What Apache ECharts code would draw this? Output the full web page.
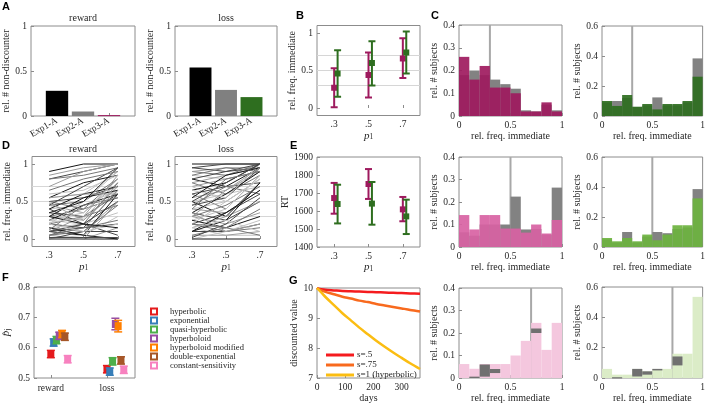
<!DOCTYPE html>
<html><head><meta charset="utf-8">
<script src="https://cdn.jsdelivr.net/npm/echarts@6/dist/echarts.min.js"></script>
<style>html,body{margin:0;padding:0;background:#fff}#c{width:708px;height:404px}</style>
</head><body><div id="c"></div>
<script>
// ---------------- DATA ----------------
const expCategories = ['Exp1-A', 'Exp2-A', 'Exp3-A'];
const nonDiscReward = [0.28, 0.05, 0.01];
const nonDiscLoss = [0.54, 0.29, 0.21];

const pLevels = [0.3, 0.5, 0.7];
const refLevels = [0.3, 0.5, 0.7];

// B: relative frequency of immediate choice (mean, lower, upper)
const freqRewardMean = [0.27, 0.44, 0.66];
const freqRewardLo = [0.01, 0.14, 0.40];
const freqRewardHi = [0.53, 0.74, 0.93];
const freqLossMean = [0.46, 0.60, 0.74];
const freqLossLo = [0.15, 0.30, 0.46];
const freqLossHi = [0.77, 0.89, 1.02];

// E: RT
const rtRewardMean = [1672, 1750, 1609];
const rtRewardLo = [1585, 1667, 1543];
const rtRewardHi = [1756, 1833, 1678];
const rtLossMean = [1639, 1641, 1570];
const rtLossLo = [1531, 1524, 1472];
const rtLossHi = [1746, 1761, 1663];

// D: individual subjects, rel. freq. immediate at p1 = .3, .5, .7
const subjReward = [
  [0.9,1,1],[0.8,0.9,1],[0.8,0.85,0.95],[0.7,0.9,1],[0.55,0.6,0.9],[0.55,0.75,0.85],[0.5,0.55,0.7],
  [0.45,0.5,0.8],[0.45,0.35,0.75],[0.4,0.45,0.65],[0.4,0.6,0.7],[0.35,0.3,0.6],[0.3,0.4,0.55],
  [0.3,0.25,0.7],[0.25,0.2,0.5],[0.25,0.45,0.6],[0.2,0.15,0.65],[0.2,0.3,0.45],[0.15,0.1,0.5],
  [0.15,0.2,0.35],[0.1,0.05,0.6],[0.1,0.15,0.2],[0.05,0.1,0.45],[0.05,0,0.15],[0,0.05,0.3],[0,0,0],
  [0,0.1,0.1],[0.05,0.2,0.75],[0.1,0.3,0.85],[0.2,0.5,0.9],[0.3,0.55,0.65],[0.4,0.2,0.5],
  [0.5,0.4,0.8],[0.55,0.6,0.6],[0.6,0.65,0.85],[0.15,0.05,0],[0.1,0.2,0.05],[0.05,0.15,0.25],
  [0,0,0.5],[0.25,0.35,0.8],[0.35,0.5,0.95],[0.45,0.7,0.95],[0.65,0.8,0.9],[0.85,0.95,1],
  [0.2,0.1,0.2],[0.3,0.2,0.15],[0.02,0.02,0.02],[0.12,0.45,0.55],[0.48,0.25,0.65],[0.22,0.28,0.72]
];
const subjLoss = [
  [1,1,1],[0.95,1,1],[0.9,0.85,1],[0.9,0.95,0.95],[0.85,0.8,0.9],[0.8,0.7,0.95],[0.8,0.9,1],
  [0.75,0.6,0.85],[0.7,0.8,0.9],[0.7,0.5,0.8],[0.65,0.75,1],[0.6,0.7,0.75],[0.6,0.4,0.85],
  [0.55,0.65,0.9],[0.5,0.6,0.7],[0.5,0.3,0.75],[0.45,0.55,0.95],[0.45,0.7,0.6],[0.4,0.35,0.65],
  [0.4,0.5,0.8],[0.35,0.6,0.9],[0.35,0.25,0.5],[0.3,0.45,0.7],[0.3,0.2,0.35],[0.25,0.4,0.85],
  [0.25,0.15,0.3],[0.2,0.35,0.6],[0.2,0.1,0.15],[0.15,0.3,0.5],[0.15,0.05,0.05],[0.1,0.25,0.75],
  [0.1,0.1,0.2],[0.05,0.15,0.4],[0.05,0.05,0.1],[0,0.1,0.25],[0,0,0],[0.95,0.9,0.95],[0.85,0.95,0.9],
  [0.75,0.85,0.95],[0.65,0.55,1],[0.55,0.85,0.95],[0.5,0.75,1],[0.4,0.8,0.9],[0.3,0.65,0.95],
  [0.2,0.5,0.8],[0.1,0.35,0.65],[0.02,0.2,0.55],[0.2,0.15,0.05],[0.35,0.1,0.2],[0.15,0.25,0.1]
];

// C: histograms (10 bins over [0,1])
const histBinEdges = [0, 0.1, 0.2, 0.3, 0.4, 0.5, 0.6, 0.7, 0.8, 0.9, 1];
const histRewP3 = [0.26, 0.16, 0.22, 0.125, 0.125, 0.10, 0.02, 0.02, 0.06, 0.02];
const histRewP3Gray = [0.18, 0.20, 0.18, 0.16, 0.14, 0.12, 0.025, 0.02, 0.05, 0.025];
const histLossP3 = [0.10, 0.067, 0.14, 0.062, 0.08, 0.044, 0.08, 0.08, 0.10, 0.262];
const histLossP3Gray = [0.09, 0.10, 0.12, 0.06, 0.07, 0.124, 0.07, 0.07, 0.09, 0.384];
const histRewP5 = [0.142, 0.078, 0.142, 0.142, 0.082, 0.082, 0.064, 0.10, 0.06, 0.12];
const histRewP5Gray = [0.065, 0.05, 0.10, 0.10, 0.10, 0.224, 0.078, 0.08, 0.055, 0.264];
const histLossP5 = [0.06, 0.038, 0.06, 0.038, 0.083, 0.045, 0.083, 0.145, 0.145, 0.324];
const histLossP5Gray = [0.05, 0.03, 0.10, 0.03, 0.07, 0.10, 0.092, 0.12, 0.13, 0.386];
const histRewP7 = [0.062, 0.041, 0.062, 0.062, 0.062, 0.10, 0.165, 0.245, 0.125, 0.245];
const histRewP7GrayBlocks = [[1, 0, 0.006], [2, 0.006, 0.06], [3, 0.022, 0.04], [7, 0.2, 0.22]];
const histLossP7 = [0.06, 0.022, 0.022, 0.06, 0.044, 0.06, 0.06, 0.16, 0.16, 0.535];
const histLossP7GrayBlocks = [[1, 0, 0.005], [3, 0.01, 0.06], [4, 0.022, 0.044], [5, 0.05, 0.06], [7, 0.083, 0.142]];

// F: model fits
const fCategories = ['reward', 'loss'];
const models = ['hyperbolic', 'exponential', 'quasi-hyperbolic', 'hyperboloid', 'hyperboloid modified', 'double-exponential', 'constant-sensitivity'];
const pHatReward = [0.579, 0.617, 0.625, 0.639, 0.645, 0.636, 0.562];
const pHatLoss = [0.529, 0.521, 0.555, 0.678, 0.671, 0.558, 0.527];
const pHatRewardErr = [0.012, 0.012, 0.012, 0.012, 0.012, 0.012, 0.012];
const pHatLossErr = [0.012, 0.012, 0.012, 0.019, 0.019, 0.012, 0.012];

// G: discounted value curves
const days = [0, 5, 15, 30, 60, 90, 120, 150, 180, 210, 240, 270, 300, 330, 365];
const valS05 = [10, 9.98, 9.96, 9.94, 9.92, 9.90, 9.89, 9.88, 9.87, 9.86, 9.85, 9.84, 9.83, 9.82, 9.81];
const valS075 = [10, 9.97, 9.92, 9.87, 9.79, 9.71, 9.65, 9.58, 9.53, 9.47, 9.42, 9.37, 9.32, 9.27, 9.22];
const valS1 = [10, 9.95, 9.85, 9.70, 9.43, 9.16, 8.92, 8.68, 8.46, 8.24, 8.04, 7.85, 7.67, 7.49, 7.30];
const gNames = ['s=.5', 's=.75', 's=1 (hyperbolic)'];

// ---------------- STYLE ----------------
const SERIF = "'Liberation Serif','Times New Roman',serif";
const SANS = "'Liberation Sans',Arial,sans-serif";
const AX = '#8c8c8c', TX = '#262626';
const MAG = '#9e1a5e', GRN = '#2e6e1f', PINK = '#d862a3', LGRN = '#6cb33f', LPINK = '#f4c7de', LLGRN = '#dbecc7';
const GRAYH = '#828282', GRAYB = '#707070', VLINE = '#a8a8a8', REFL = '#d6d6d6';
const shades = ['#151515', '#474747', '#767676', '#9c9c9c', '#c2c2c2'];
const modelColors = ['#e41a1c', '#377eb8', '#4daf4a', '#984ea3', '#ff7f00', '#a65628', '#f781bf'];
const gColors = ['#f51b1e', '#f86a1e', '#fbbd12'];

const rich = {
  i: {fontFamily: SERIF, fontStyle: 'italic', fontSize: 11, color: TX, padding: [0, 0, 3, 0]},
  s: {fontFamily: SERIF, fontSize: 7.5, color: TX}
};
const P1 = '{i|p}{s|1}';

const grids = [
  {left: 31, top: 26, width: 104, height: 90},   // 0 A reward
  {left: 175, top: 26, width: 102, height: 90},  // 1 A loss
  {left: 317, top: 25.5, width: 103, height: 90},// 2 B
  {left: 459, top: 25, width: 103, height: 91},  // 3 C r1c1
  {left: 602, top: 26, width: 103, height: 90},  // 4 C r1c2
  {left: 32, top: 156.5, width: 103, height: 90},// 5 D reward
  {left: 175, top: 156.5, width: 102, height: 90},// 6 D loss
  {left: 317, top: 157, width: 103, height: 90}, // 7 E
  {left: 459, top: 157, width: 103, height: 90}, // 8 C r2c1
  {left: 602, top: 157, width: 103, height: 90}, // 9 C r2c2
  {left: 32, top: 287, width: 103, height: 91},  // 10 F
  {left: 317, top: 288, width: 103, height: 90}, // 11 G
  {left: 459, top: 288, width: 103, height: 90}, // 12 C r3c1
  {left: 602, top: 287, width: 103, height: 91}  // 13 C r3c2
].map(g => Object.assign({show: true, borderColor: AX, borderWidth: 1, containLabel: false}, g));

function axis(gi, o) {
  const a = {
    type: 'value', gridIndex: gi, min: o.min, max: o.max,
    axisLine: {show: false},
    axisTick: {show: true, inside: true, length: 3, lineStyle: {color: AX}},
    axisLabel: {show: true, color: TX, fontFamily: SERIF, fontSize: 9.5, margin: o.margin != null ? o.margin : 4, rotate: o.rotate || 0,
      formatter: v => String(v)},
    splitLine: {show: false},
    name: o.name || '', nameLocation: 'middle', nameGap: o.gap || 15,
    nameTextStyle: {color: TX, fontFamily: SERIF, fontSize: 10, rich: rich}
  };
  if (o.interval != null) a.interval = o.interval;
  if (o.ticks) { a.axisTick.customValues = o.ticks; a.axisLabel.customValues = o.ticks; }
  if (o.fmt) a.axisLabel.formatter = o.fmt;
  return a;
}
const dotFmt = v => String(v).replace(/^0\./, '.');

const xAxes = [], yAxes = [];
// A
xAxes.push(axis(0, {min: 0, max: 4, ticks: [1, 2, 3], fmt: v => expCategories[v - 1], rotate: 30, margin: 4}));
yAxes.push(axis(0, {min: 0, max: 1, interval: 0.5, name: 'rel. # non-discounter', gap: 15}));
xAxes.push(axis(1, {min: 0, max: 4, ticks: [1, 2, 3], fmt: v => expCategories[v - 1], rotate: 30, margin: 4}));
yAxes.push(axis(1, {min: 0, max: 1, interval: 0.5, name: 'rel. # non-discounter', gap: 17}));
// B
xAxes.push(axis(2, {min: 0.2, max: 0.8, ticks: pLevels, fmt: dotFmt, name: P1, gap: 13}));
yAxes.push(axis(2, {min: -0.1, max: 1.1, ticks: [0, 0.5, 1], name: 'rel. freq. immediate', gap: 17}));
// C row1
xAxes.push(axis(3, {min: 0, max: 1, interval: 0.5, name: 'rel. freq. immediate', gap: 14}));
yAxes.push(axis(3, {min: 0, max: 0.4, interval: 0.1, name: 'rel. # subjects', gap: 17}));
xAxes.push(axis(4, {min: 0, max: 1, interval: 0.5, name: 'rel. freq. immediate', gap: 14}));
yAxes.push(axis(4, {min: 0, max: 0.6, interval: 0.2, name: 'rel. # subjects', gap: 16.5}));
// D
xAxes.push(axis(5, {min: 0.2, max: 0.8, ticks: pLevels, fmt: dotFmt, name: P1, gap: 13}));
yAxes.push(axis(5, {min: -0.1, max: 1.1, ticks: [0, 0.5, 1], name: 'rel. freq. immediate', gap: 16}));
xAxes.push(axis(6, {min: 0.2, max: 0.8, ticks: pLevels, fmt: dotFmt, name: P1, gap: 13}));
yAxes.push(axis(6, {min: -0.1, max: 1.1, ticks: [0, 0.5, 1], name: 'rel. freq. immediate', gap: 17}));
// E
xAxes.push(axis(7, {min: 0.2, max: 0.8, ticks: pLevels, fmt: dotFmt, name: P1, gap: 14}));
yAxes.push(axis(7, {min: 1400, max: 1900, interval: 100, name: 'RT', gap: 23}));
// C row2
xAxes.push(axis(8, {min: 0, max: 1, interval: 0.5, name: 'rel. freq. immediate', gap: 14}));
yAxes.push(axis(8, {min: 0, max: 0.4, interval: 0.1, name: 'rel. # subjects', gap: 17}));
xAxes.push(axis(9, {min: 0, max: 1, interval: 0.5, name: 'rel. freq. immediate', gap: 14}));
yAxes.push(axis(9, {min: 0, max: 0.6, interval: 0.2, name: 'rel. # subjects', gap: 16.5}));
// F
xAxes.push(axis(10, {min: 0.7, max: 2.5, ticks: [1, 2], fmt: v => fCategories[v - 1], margin: 5}));
yAxes.push(axis(10, {min: 0.5, max: 0.8, interval: 0.1, name: '{i|p\u0302}{s|j}', gap: 19}));
// G
xAxes.push(axis(11, {min: 0, max: 365, ticks: [0, 100, 200, 300], name: 'days', gap: 14}));
yAxes.push(axis(11, {min: 7, max: 10, interval: 1, name: 'discounted value', gap: 14}));
// C row3
xAxes.push(axis(12, {min: 0, max: 1, interval: 0.5, name: 'rel. freq. immediate', gap: 15}));
yAxes.push(axis(12, {min: 0, max: 0.4, interval: 0.1, name: 'rel. # subjects', gap: 17}));
xAxes.push(axis(13, {min: 0, max: 1, interval: 0.5, name: 'rel. freq. immediate', gap: 15}));
yAxes.push(axis(13, {min: 0, max: 0.6, interval: 0.2, name: 'rel. # subjects', gap: 16.5}));

// ---------------- RENDERERS ----------------
function barRender(colors) {
  return function (params, api) {
    const x = api.value(0), v = api.value(1);
    const p0 = api.coord([x - 0.43, 0]), p1 = api.coord([x + 0.43, v]);
    return {type: 'rect', shape: {x: p0[0], y: p1[1], width: p1[0] - p0[0], height: Math.max(p0[1] - p1[1], 1)},
      style: {fill: colors[params.dataIndex]}};
  };
}
function errRender(color, capHalf, sqHalf) {
  return function (params, api) {
    const x = api.value(0), m = api.value(1), lo = api.value(2), hi = api.value(3);
    const pm = api.coord([x, m]), pl = api.coord([x, lo]), ph = api.coord([x, hi]);
    const st = {stroke: color, lineWidth: 2};
    return {type: 'group', children: [
      {type: 'line', shape: {x1: pl[0], y1: pl[1], x2: ph[0], y2: ph[1]}, style: st},
      {type: 'line', shape: {x1: pl[0] - capHalf, y1: pl[1], x2: pl[0] + capHalf, y2: pl[1]}, style: st},
      {type: 'line', shape: {x1: ph[0] - capHalf, y1: ph[1], x2: ph[0] + capHalf, y2: ph[1]}, style: st},
      {type: 'rect', shape: {x: pm[0] - sqHalf, y: pm[1] - sqHalf, width: 2 * sqHalf, height: 2 * sqHalf}, style: {fill: color}}
    ]};
  };
}
function histRender(color, opacity) {
  return function (params, api) {
    const i = api.value(0), v = api.value(1);
    const p0 = api.coord([histBinEdges[i], 0]), p1 = api.coord([histBinEdges[i + 1], v]);
    return {type: 'rect', shape: {x: p0[0], y: p1[1], width: p1[0] - p0[0], height: p0[1] - p1[1]},
      style: {fill: color, opacity: opacity}};
  };
}
function blockRender(color) {
  return function (params, api) {
    const i = api.value(0), lo = api.value(1), hi = api.value(2);
    const p0 = api.coord([histBinEdges[i], lo]), p1 = api.coord([histBinEdges[i + 1], hi]);
    return {type: 'rect', shape: {x: p0[0], y: p1[1], width: p1[0] - p0[0], height: Math.max(p0[1] - p1[1], 1.2)},
      style: {fill: color}};
  };
}
function vlineRender(params, api) {
  const cs = params.coordSys;
  const x = api.coord([api.value(0), 0])[0];
  return {type: 'line', shape: {x1: x, y1: cs.y, x2: x, y2: cs.y + cs.height}, style: {stroke: VLINE, lineWidth: 2}};
}
function hlineRender(params, api) {
  const cs = params.coordSys;
  const y = api.coord([0.5, api.value(0)])[1];
  return {type: 'line', shape: {x1: cs.x, y1: y, x2: cs.x + cs.width, y2: y}, style: {stroke: REFL, lineWidth: 1}};
}
function subjRender(params, api) {
  const pts = pLevels.map((p, k) => api.coord([p, api.value(k)]));
  return {type: 'polyline', shape: {points: pts}, style: {stroke: shades[params.dataIndex % shades.length], lineWidth: 1, fill: null}};
}
function modelRender(color) {
  return function (params, api) {
    const x = api.value(0), m = api.value(1), e = api.value(2);
    const pm = api.coord([x, m]), pl = api.coord([x, m - e]), ph = api.coord([x, m + e]);
    const st = {stroke: color, lineWidth: 1.5};
    return {type: 'group', children: [
      {type: 'line', shape: {x1: pl[0], y1: pl[1], x2: ph[0], y2: ph[1]}, style: st},
      {type: 'line', shape: {x1: pl[0] - 4, y1: pl[1], x2: pl[0] + 4, y2: pl[1]}, style: st},
      {type: 'line', shape: {x1: ph[0] - 4, y1: ph[1], x2: ph[0] + 4, y2: ph[1]}, style: st},
      {type: 'rect', shape: {x: pm[0] - 3.5, y: pm[1] - 4, width: 7, height: 8}, style: {fill: color}}
    ]};
  };
}

// ---------------- SERIES ----------------
const series = [];
function cs(gi, extra) { return Object.assign({type: 'custom', xAxisIndex: gi, yAxisIndex: gi, silent: true, clip: false}, extra); }

// A
series.push(cs(0, {renderItem: barRender(['#000000', '#808080', MAG]), data: nonDiscReward.map((v, i) => [i + 1, v])}));
series.push(cs(1, {renderItem: barRender(['#000000', '#808080', GRN]), data: nonDiscLoss.map((v, i) => [i + 1, v])}));
// B
series.push(cs(2, {renderItem: hlineRender, data: refLevels.map(v => [v]), z: 1}));
series.push(cs(2, {renderItem: errRender(MAG, 3.5, 3), data: pLevels.map((p, i) => [p, freqRewardMean[i], freqRewardLo[i], freqRewardHi[i]]), z: 3}));
series.push(cs(2, {renderItem: errRender(GRN, 3.5, 3), data: pLevels.map((p, i) => [p + 0.02, freqLossMean[i], freqLossLo[i], freqLossHi[i]]), z: 4}));
// E
series.push(cs(7, {renderItem: errRender(MAG, 3.5, 3), data: pLevels.map((p, i) => [p, rtRewardMean[i], rtRewardLo[i], rtRewardHi[i]]), z: 3}));
series.push(cs(7, {renderItem: errRender(GRN, 3.5, 3), data: pLevels.map((p, i) => [p + 0.02, rtLossMean[i], rtLossLo[i], rtLossHi[i]]), z: 4}));
// D
[[5, subjReward], [6, subjLoss]].forEach(([gi, d]) => {
  series.push(cs(gi, {renderItem: hlineRender, data: refLevels.map(v => [v]), z: 1}));
  series.push(cs(gi, {renderItem: subjRender, data: d, z: 2}));
});
// C
const hists = [
  {gi: 3, p: 0.3, col: MAG, vals: histRewP3, gray: histRewP3Gray},
  {gi: 4, p: 0.3, col: GRN, vals: histLossP3, gray: histLossP3Gray},
  {gi: 8, p: 0.5, col: PINK, vals: histRewP5, gray: histRewP5Gray},
  {gi: 9, p: 0.5, col: LGRN, vals: histLossP5, gray: histLossP5Gray},
  {gi: 12, p: 0.7, col: LPINK, vals: histRewP7, blocks: histRewP7GrayBlocks},
  {gi: 13, p: 0.7, col: LLGRN, vals: histLossP7, blocks: histLossP7GrayBlocks}
];
hists.forEach(h => {
  series.push(cs(h.gi, {renderItem: vlineRender, data: [[h.p]], z: 1}));
  if (h.gray) series.push(cs(h.gi, {renderItem: histRender(GRAYH, 1), data: h.gray.map((v, i) => [i, v]), z: 2}));
  series.push(cs(h.gi, {renderItem: histRender(h.col, h.gray ? 0.92 : 1), data: h.vals.map((v, i) => [i, v]), z: 3}));
  if (h.blocks) series.push(cs(h.gi, {renderItem: blockRender(GRAYB), data: h.blocks, z: 4}));
});
// F
models.forEach((m, i) => {
  series.push(cs(10, {name: m, color: modelColors[i], renderItem: modelRender(modelColors[i]),
    data: [[1 + 0.05 * i, pHatReward[i], pHatRewardErr[i]], [2 + 0.05 * i, pHatLoss[i], pHatLossErr[i]]], z: 3}));
});
// G
[valS05, valS075, valS1].forEach((vals, k) => {
  series.push({type: 'line', name: gNames[k], xAxisIndex: 11, yAxisIndex: 11, smooth: 0.3, showSymbol: false, silent: true,
    color: gColors[k], lineStyle: {width: 2.5, color: gColors[k]}, data: days.map((d, i) => [d, vals[i]]), z: 3});
});

// ---------------- TEXT ----------------
const letters = [['A', 2, 1], ['B', 296, 10], ['C', 431, 10], ['D', 2, 140], ['E', 290, 140], ['F', 2, 272], ['G', 289, 275]];
const titles = [['reward', 83, 18], ['loss', 226, 18], ['reward', 83, 149], ['loss', 226, 149]];
const graphic = [];
letters.forEach(([t, x, y]) => graphic.push({type: 'text', x: x, y: y, silent: true,
  style: {text: t, fontFamily: SANS, fontWeight: 'bold', fontSize: 11, fill: '#000', textVerticalAlign: 'top'}}));
titles.forEach(([t, x, y]) => graphic.push({type: 'text', x: x, y: y, silent: true,
  style: {text: t, fontFamily: SERIF, fontSize: 10, fill: TX, textAlign: 'center', textVerticalAlign: 'middle'}}));

const option = {
  animation: false,
  textStyle: {fontFamily: SERIF},
  grid: grids, xAxis: xAxes, yAxis: yAxes, series: series, graphic: graphic,
  legend: [
    {data: models.map((m, i) => ({name: m, icon: 'rect', itemStyle: {color: '#ffffff', borderColor: modelColors[i], borderWidth: 2}})),
      orient: 'vertical', left: 145, top: 302, itemWidth: 6, itemHeight: 6, itemGap: 0, selectedMode: false,
      textStyle: {fontFamily: SERIF, fontSize: 8.5, color: TX, lineHeight: 7.6, padding: [0, 0, 0, 8]}},
    {data: gNames.map(n => ({name: n, icon: 'rect'})),
      orient: 'vertical', left: 321, top: 345, itemWidth: 28, itemHeight: 3, itemGap: 0, selectedMode: false,
      textStyle: {fontFamily: SERIF, fontSize: 9, color: TX, lineHeight: 10, padding: [0, 0, 0, -2]}}
  ]
};
const chart = echarts.init(document.getElementById('c'));
chart.setOption(option);
</script>
</body></html>
